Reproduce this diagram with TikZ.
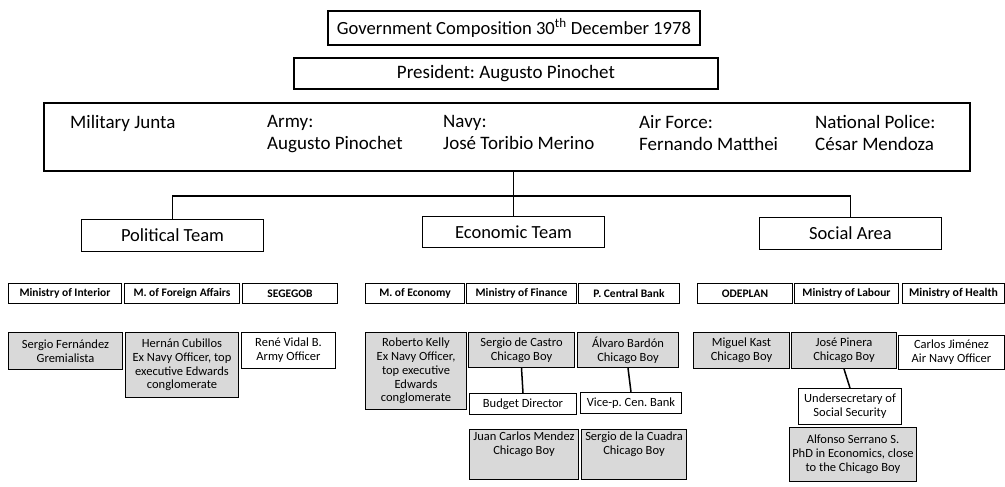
\documentclass[tikz,border=0pt]{standalone}
\usepackage{fontspec}
\setmainfont{Carlito}
\frenchspacing
\usetikzlibrary{positioning}

\tikzset{
  box/.style={draw,line width=1pt,anchor=north west,align=center,inner sep=1pt},
  headbox/.style={box,line width=1.8pt,font=\fontsize{19}{22}\selectfont},
  teambox/.style={box,minimum width=182pt,font=\fontsize{18.5}{22}\selectfont},
  minbox/.style={box,minimum height=20pt,font=\fontsize{11.5}{13}\bfseries},
  whobox/.style={box,font=\fontsize{12.5}{13.8}\selectfont},
  cboy/.style={whobox,fill=black!15},
  juntatext/.style={anchor=north west,align=left,inner sep=0pt,font=\fontsize{19}{22}\selectfont},
}

\begin{document}
\begin{tikzpicture}[x=1pt,y=-1pt]
  \useasboundingbox (0,0) rectangle (1005,487);

  % top of the chart
  \node[headbox,minimum width=372pt,minimum height=34pt,font=\fontsize{18.6}{22}\selectfont] (title) at (327,10)
    {Government Composition 30\textsuperscript{th} December 1978};
  \node[headbox,minimum width=424pt,minimum height=31pt] (pres) at (293,57)
    {President: Augusto Pinochet};
  \node[box,line width=2.2pt,minimum width=926pt,minimum height=68pt] (junta) at (43,102) {};
  \node[juntatext] (mil) at (70,115) {Military Junta};
  \node[juntatext] (army) at (267,115) {Army:\\Augusto Pinochet};
  \node[juntatext] (navy) at (443,115) {Navy:\\José Toribio Merino};
  \node[juntatext] (air) at (639,115) {Air Force:\\Fernando Matthei};
  \node[juntatext] (police) at (815,115) {National Police:\\César Mendoza};

  % teams
  \node[teambox,minimum height=32pt] (pol) at (81,219) {Political Team};
  \node[teambox,minimum height=31pt] (econ) at (422,216) {Economic Team};
  \node[teambox,minimum height=32pt] (soc) at (759,217) {Social Area};
  \coordinate (bus) at (513,196);
  \draw[line width=1.5pt] (econ.north |- junta.south) -- (econ.north);
  \draw[line width=1.5pt] (pol.north) |- (bus) -| (soc.north);

  % ministries
  \node[minbox,minimum width=113pt] (interior) at (8,283) {Ministry of Interior};
  \node[minbox,minimum width=115pt] (foreign) at (124,283) {M. of Foreign Affairs};
  \node[minbox,minimum width=95pt] (segegob) at (242,283) {SEGEGOB};
  \node[minbox,minimum width=99pt] (economy) at (365,283) {M. of Economy};
  \node[minbox,minimum width=110pt] (finance) at (466,283) {Ministry of Finance};
  \node[minbox,minimum width=101pt] (bank) at (578,283) {P. Central Bank};
  \node[minbox,minimum width=95pt] (odeplan) at (697,283) {ODEPLAN};
  \node[minbox,minimum width=104pt] (labour) at (794,283) {Ministry of Labour};
  \node[minbox,minimum width=102pt,font=\fontsize{11.8}{14}\bfseries] (health) at (902,283) {Ministry of Health};

  % political team people
  \node[cboy,minimum width=114pt,minimum height=37pt] (fernandez) at (8,332)
    {Sergio Fernández\\Gremialista};
  \node[cboy,minimum width=113pt,minimum height=65pt] (cubillos) at (125,332)
    {Hernán Cubillos\\Ex Navy Officer, top\\executive Edwards\\conglomerate};
  \node[whobox,minimum width=94pt,minimum height=36pt] (vidal) at (241,332)
    {René Vidal B.\\Army Officer};

  % economic team people
  \node[cboy,minimum width=101pt,minimum height=77pt] (kelly) at (365,332)
    {Roberto Kelly\\Ex Navy Officer,\\top executive\\Edwards\\conglomerate};
  \node[cboy,minimum width=106pt,minimum height=35pt] (castro) at (468,332)
    {Sergio de Castro\\Chicago Boy};
  \node[cboy,minimum width=101pt,minimum height=35pt] (bardon) at (577,332)
    {Álvaro Bardón\\Chicago Boy};
  \node[whobox,minimum width=107pt,minimum height=21pt] (budget) at (469,393) {Budget Director};
  \node[whobox,minimum width=101pt,minimum height=21pt] (vicep) at (580,392) {Vice-p. Cen. Bank};
  \node[cboy,minimum width=109pt,minimum height=50pt,inner ysep=2pt,text depth=22pt] (mendez) at (469,429)
    {Juan Carlos Mendez\\Chicago Boy};
  \node[cboy,minimum width=105pt,minimum height=50pt,inner ysep=2pt,text depth=22pt] (cuadra) at (581,429)
    {Sergio de la Cuadra\\Chicago Boy};
  \draw[line width=1.5pt] (castro.south) -- (budget.north);
  \draw[line width=1.5pt] (bardon.south) -- (vicep.north);

  % social area people
  \node[cboy,minimum width=96pt,minimum height=36pt] (kast) at (693,332)
    {Miguel Kast\\Chicago Boy};
  \node[cboy,minimum width=105pt,minimum height=36pt] (pinera) at (791,332)
    {José Pinera\\Chicago Boy};
  \node[whobox,minimum width=106pt,minimum height=34pt] (jimenez) at (898,335)
    {Carlos Jiménez\\Air Navy Officer};
  \node[whobox,minimum width=103pt,minimum height=36pt] (subsec) at (798,388)
    {Undersecretary of\\Social Security};
  \node[cboy,minimum width=127pt,minimum height=54pt] (serrano) at (789,427)
    {Alfonso Serrano S.\\PhD in Economics, close\\to the Chicago Boy};
  \draw[line width=1.5pt] (pinera.south) -- (subsec.north);
\end{tikzpicture}
\end{document}
